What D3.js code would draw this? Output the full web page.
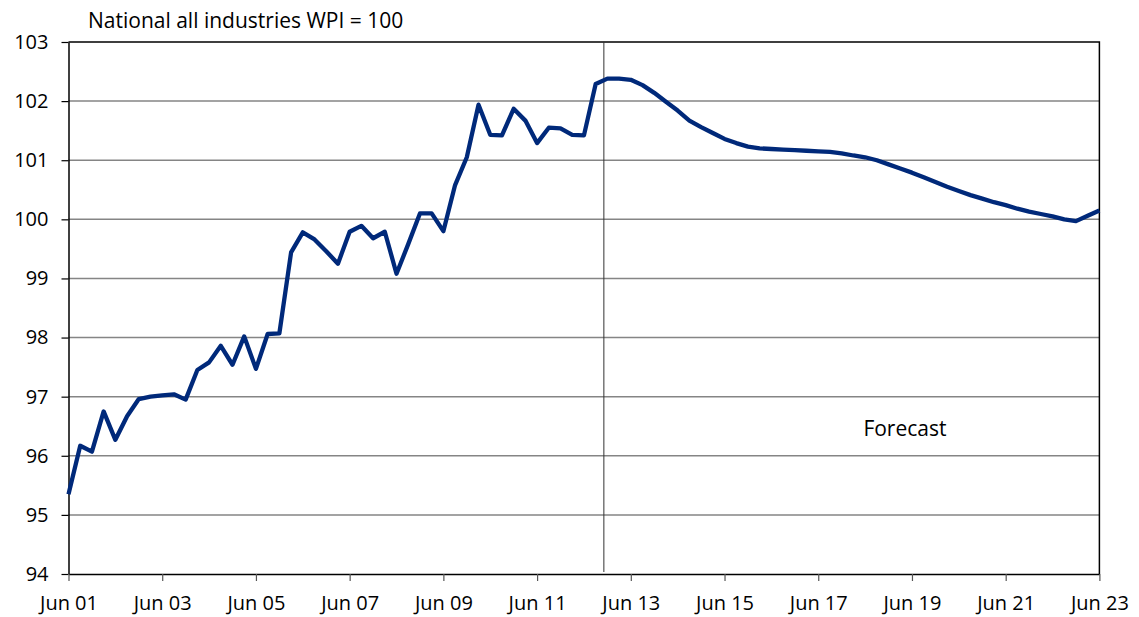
<!DOCTYPE html>
<html>
<head>
<meta charset="utf-8">
<script src="https://cdn.jsdelivr.net/npm/d3@7"></script>
<style>
    body { margin: 0; background: #fff; }
    svg { display: block; font-family: "Open Sans", sans-serif; }
</style>
</head>
<body>
<div id="chart"></div>
<script>
// quarterly WPI relative to national all industries (=100), Jun 01 .. Jun 23
var wpiValues = [
    95.35, 96.17, 96.07, 96.75, 96.27, 96.67, 96.96, 97.00, 97.02, 97.04,
    96.95, 97.45, 97.58, 97.86, 97.54, 98.02, 97.47, 98.06, 98.07, 99.44,
    99.78, 99.66, 99.46, 99.25, 99.79, 99.89, 99.68, 99.79, 99.08, 99.58,
    100.10, 100.10, 99.80, 100.58, 101.05, 101.94, 101.43, 101.42, 101.87, 101.67,
    101.29, 101.55, 101.54, 101.43, 101.42, 102.29, 102.38, 102.38, 102.36, 102.27,
    102.14, 101.99, 101.84, 101.67, 101.56, 101.46, 101.36, 101.29, 101.23, 101.20,
    101.19, 101.18, 101.17, 101.16, 101.15, 101.14, 101.115, 101.08, 101.05, 101.00,
    100.93, 100.86, 100.79, 100.71, 100.63, 100.55, 100.48, 100.41, 100.35, 100.29,
    100.24, 100.18, 100.13, 100.09, 100.05, 100.00, 99.97, 100.06, 100.15
];

var xTickLabels = ["Jun 01", "Jun 03", "Jun 05", "Jun 07", "Jun 09", "Jun 11",
    "Jun 13", "Jun 15", "Jun 17", "Jun 19", "Jun 21", "Jun 23"];
var yTicks = [94, 95, 96, 97, 98, 99, 100, 101, 102, 103];

var forecastStart = 45.7;   // in quarters after Jun 01
var forecastLabelPos = [71.4, 96.33];
var title = "National all industries WPI = 100";

var width = 1139, height = 617;
var margin = { top: 42, right: 39.6, bottom: 43, left: 68.5 };
var fontSize = "20px";

var svg = d3.select("#chart").append("svg")
    .attr("width", width)
    .attr("height", height);

var x = d3.scaleLinear()
    .domain([0, wpiValues.length - 1])
    .range([margin.left, width - margin.right]);

var y = d3.scaleLinear()
    .domain([94, 103])
    .range([height - margin.bottom, margin.top]);

// gridlines
svg.append("g")
    .selectAll("line")
    .data(yTicks.filter(d => d > 94 && d < 103))
    .join("line")
    .attr("x1", margin.left)
    .attr("x2", width - margin.right)
    .attr("y1", d => y(d))
    .attr("y2", d => y(d))
    .attr("stroke", "#858585")
    .attr("stroke-width", 1.5);

// frame (top + right)
svg.append("path")
    .attr("d", `M${margin.left},${y(103)}H${width - margin.right}V${y(94)}`)
    .attr("fill", "none")
    .attr("stroke", "#000")
    .attr("stroke-width", 1.5);

// y axis
var yAxis = svg.append("g")
    .attr("transform", `translate(${margin.left},0)`)
    .call(d3.axisLeft(y).tickValues(yTicks).tickSize(7).tickPadding(13).tickSizeOuter(0));

// x axis
var xAxis = svg.append("g")
    .attr("transform", `translate(0,${y(94)})`)
    .call(d3.axisBottom(x)
        .tickValues(xTickLabels.map((d, i) => i * 8))
        .tickFormat((d, i) => xTickLabels[i])
        .tickSize(7).tickPadding(15).tickSizeOuter(0));

[yAxis, xAxis].forEach(axis => {
    axis.select(".domain").attr("stroke", "#000").attr("stroke-width", 1.5);
    axis.selectAll(".tick line").attr("stroke", "#000").attr("stroke-width", 1.2);
    axis.selectAll("text")
        .attr("fill", "#000")
        .style("font-size", fontSize)
        .style("font-family", "'Open Sans', sans-serif");
});
xAxis.selectAll(".tick line").attr("stroke", "#555");

// forecast divider
svg.append("line")
    .attr("x1", x(forecastStart))
    .attr("x2", x(forecastStart))
    .attr("y1", y(103))
    .attr("y2", y(94) - 2)
    .attr("stroke", "#333")
    .attr("stroke-width", 1);

// WPI line
var line = d3.line()
    .x((d, i) => x(i))
    .y(d => y(d));

svg.append("path")
    .datum(wpiValues)
    .attr("d", line)
    .attr("fill", "none")
    .attr("stroke", "#00297a")
    .attr("stroke-width", 4.3)
    .attr("stroke-linejoin", "round");

// texts
svg.append("text")
    .attr("x", 88)
    .attr("y", 28)
    .attr("fill", "#000")
    .style("font-size", "21px")
    .text(title);

svg.append("text")
    .attr("x", x(forecastLabelPos[0]))
    .attr("y", y(forecastLabelPos[1]))
    .attr("text-anchor", "middle")
    .attr("fill", "#000")
    .style("font-size", "21px")
    .text("Forecast");
</script>
</body>
</html>
